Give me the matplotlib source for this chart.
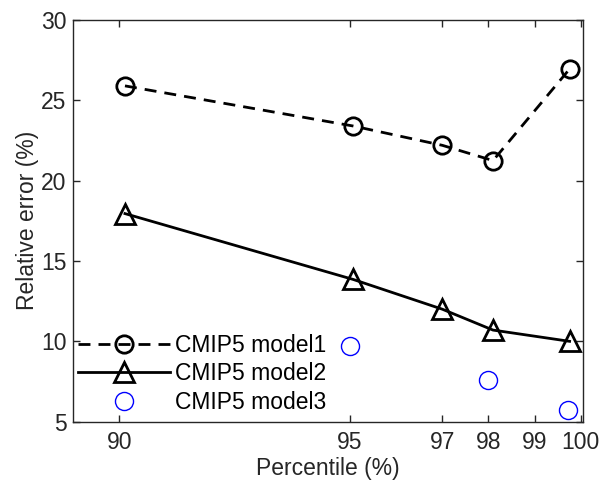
import matplotlib
matplotlib.use("Agg")
import matplotlib.pyplot as plt

# percentiles and relative errors
pct_12 = [90.12, 95.07, 97.0, 98.1, 99.76]
model1 = [25.9, 23.4, 22.2, 21.25, 26.95]
model2 = [17.95, 13.85, 12.0, 10.7, 10.0]
pct_3 = [95.0, 98.0, 99.73]
model3 = [9.7, 7.6, 5.7]

xticks = [90, 95, 97, 98, 99, 100]
yticks = [5, 10, 15, 20, 25, 30]

plt.rcParams["font.family"] = ["Liberation Sans", "DejaVu Sans"]
axis_col = "#262626"
fs = 16.5

fig = plt.figure(figsize=(6.13, 4.83), dpi=100)
ax = fig.add_axes([0.1196, 0.127, 0.8314, 0.8316])

ax.plot(pct_12, model1, color="black", lw=2.0, ls=(0, (4.3, 2.9)),
        marker="o", ms=12.5, mfc="none", mec="black", mew=2.0,
        label="CMIP5 model1")
ax.plot(pct_12, model2, color="black", lw=2.0, ls="-",
        marker="^", ms=15, mfc="none", mec="black", mew=2.0,
        label="CMIP5 model2")
ax.plot(pct_3, model3, ls="none", marker="o", ms=13, mfc="none",
        mec="#0000ff", mew=1.0, label="CMIP5 model3")

ax.set_xlim(89, 100.05)
ax.set_ylim(5, 30)
ax.set_xticks(xticks)
ax.set_yticks(yticks)
ax.tick_params(direction="in", length=5, width=1, colors=axis_col,
               labelsize=fs, top=True, right=True, pad=5)
ax.tick_params(axis="x", pad=7)
for s in ax.spines.values():
    s.set_color(axis_col)
    s.set_linewidth(1)

ax.set_xlabel("Percentile (%)", fontsize=fs, color=axis_col, labelpad=2)
ax.set_ylabel("Relative error (%)", fontsize=fs, color=axis_col, labelpad=1)

ax.legend(loc="lower left", bbox_to_anchor=(0.01, 0.02), frameon=False,
          fontsize=fs, handlelength=4.0, handletextpad=0.2,
          labelspacing=0.23, borderpad=0, borderaxespad=0, numpoints=1)

fig.savefig("out.png", dpi=100)
